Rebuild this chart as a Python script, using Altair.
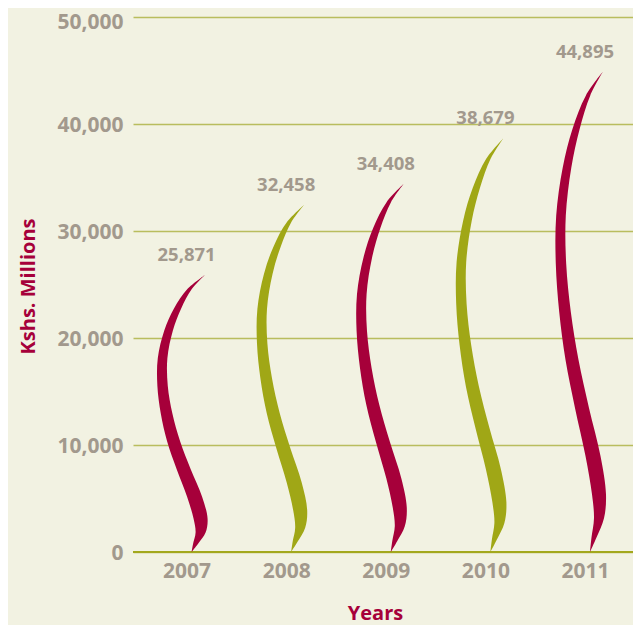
import altair as alt
import pandas as pd

# ---- data ----
years = [2007, 2008, 2009, 2010, 2011]
values = [25871, 32458, 34408, 38679, 44895]
tones = ["crimson", "olive", "crimson", "olive", "crimson"]
y_ticks = [0, 10000, 20000, 30000, 40000, 50000]

# ---- style: flame outline profile (fraction of height, centre offset px, half width px) ----
prof_t = [0.00, 0.03, 0.07, 0.12, 0.20, 0.30, 0.40, 0.50, 0.60, 0.70, 0.80, 0.88, 0.95, 1.00]
prof_c = [0, 4, 9, 9, 3, -8, -18, -25, -29, -29, -23, -14, -2, 13]
prof_hw = [0, 2.5, 5, 7, 7.5, 7, 6.5, 5.8, 5.2, 4.8, 4.3, 3.6, 2.2, 0]
PX_PER_YEAR = 99.6
BASE_SHIFT = 5

rows = []
for yr, v, tone in zip(years, values, tones):
    for i, (t, c, hw) in enumerate(zip(prof_t, prof_c, prof_hw)):
        rows.append({
            "year": yr, "tone": tone, "k": i,
            "h": t * v,
            "xl": yr + (BASE_SHIFT + c - hw) / PX_PER_YEAR,
            "xr": yr + (BASE_SHIFT + c + hw) / PX_PER_YEAR,
        })
shape_df = pd.DataFrame(rows)
data_df = pd.DataFrame({"year": years, "value": values, "tone": tones})

GRAY = "#a2998d"
CRIMSON = "#a6003a"
OLIVE = "#a0a716"
GRID = "#b9bd5e"
BG = "#f2f2e2"
FONT = "Open Sans"

x_scale = alt.Scale(domain=[2006.462, 2011.482], nice=False, zero=False)
y_scale = alt.Scale(domain=[0, 50000], nice=False)

y_axis = alt.Axis(values=y_ticks, format=",d", title="Kshs. Millions", grid=True,
                  domain=False, ticks=False, labelPadding=10,
                  labelOffset={"condition": {"test": "datum.value === 50000", "value": 5}, "value": 1.5},
                  titleX=-99, titleY=269, titleBaseline="alphabetic")
x_axis = alt.Axis(values=years, format="d", title="Years", grid=False,
                  domain=False, ticks=False, labelPadding=8, labelFlush=False,
                  titleX=242, titleY=67, titleBaseline="alphabetic")

zero_rule = alt.Chart(data_df).mark_rule(color="#a3a81e", strokeWidth=1.6).encode(
    y=alt.datum(0)
)

flames = alt.Chart(shape_df).mark_area(orient="horizontal", interpolate="catmull-rom").encode(
    x=alt.X("xl:Q", scale=x_scale, axis=x_axis, stack=None),
    x2="xr:Q",
    y=alt.Y("h:Q", scale=y_scale, axis=y_axis, stack=None),
    color=alt.Color("tone:N", scale=alt.Scale(domain=["crimson", "olive"], range=[CRIMSON, OLIVE]),
                    legend=None),
    detail="year:O",
)

value_labels = alt.Chart(data_df).mark_text(
    dy=-20, fontSize=18.5, fontWeight="bold", color=GRAY, font=FONT
).encode(
    x=alt.X("year:Q", scale=x_scale, axis=x_axis),
    y=alt.Y("value:Q", scale=y_scale, axis=y_axis),
    text=alt.Text("value:Q", format=","),
)

chart = alt.layer(zero_rule, flames, value_labels).properties(
    width=500, height=535,
    autosize=alt.AutoSizeParams(type="none"),
    padding={"left": 125, "top": 9, "right": 0, "bottom": 73},
    background=BG,
).configure_view(stroke=None).configure_axis(
    labelFont=FONT, labelFontSize=21, labelFontWeight="bold", labelColor=GRAY,
    titleFont=FONT, titleFontSize=20, titleFontWeight="bold", titleColor=CRIMSON,
    gridColor=GRID, gridWidth=1.5,
)

chart.save("out.html", embed_options={"renderer": "svg", "actions": False})
